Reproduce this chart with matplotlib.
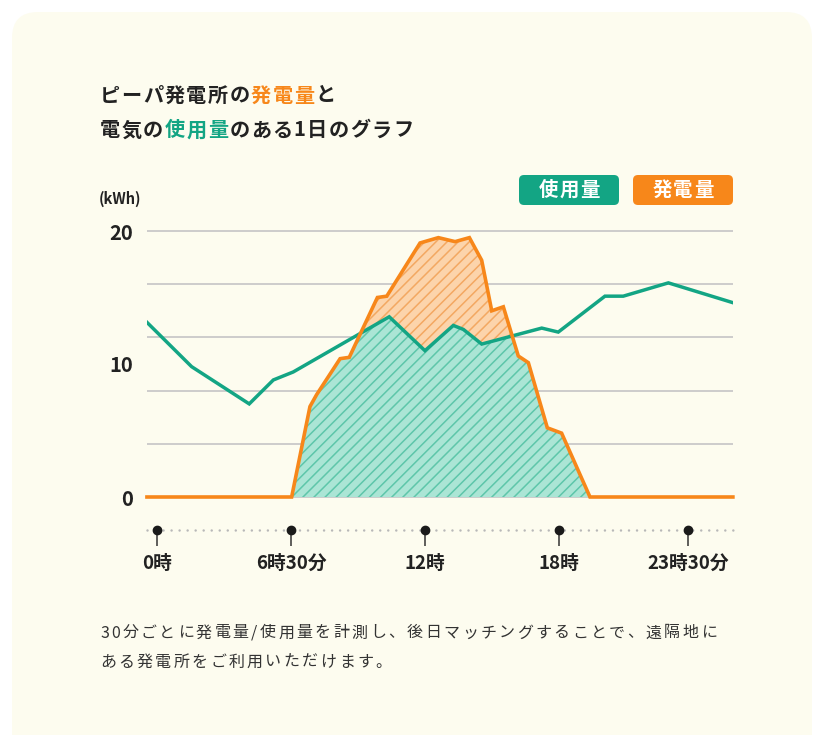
import numpy as np
import matplotlib.pyplot as plt
from matplotlib.patches import FancyBboxPatch
from matplotlib.transforms import IdentityTransform

plt.rcParams['font.family'] = ['Noto Sans CJK JP', 'DejaVu Sans']
plt.rcParams['hatch.linewidth'] = 1.1

# --- data (hours, kWh) ---
use_h = [-0.49, 1.55, 4.13, 5.21, 6.10, 10.40, 12.0, 13.27, 13.72, 14.54,
         17.23, 17.97, 20.06, 20.88, 22.90, 25.81]
use_kwh = [13.2, 9.8, 7.0, 8.8, 9.4, 13.55, 11.0, 12.9, 12.6, 11.5,
           12.7, 12.4, 15.1, 15.1, 16.1, 14.6]

gen_h = [-0.45, 6.03, 6.85, 7.15, 8.20, 8.61, 9.87, 10.29, 11.78, 12.60, 13.35,
         13.99, 14.54, 14.99, 15.51, 16.18, 16.63, 17.48, 18.12, 19.39, 25.79]
gen_kwh = [0, 0, 6.8, 7.7, 10.4, 10.5, 15.0, 15.1, 19.1, 19.5, 19.2,
           19.5, 17.8, 14.0, 14.3, 10.6, 10.1, 5.2, 4.8, 0, 0]

grid_kwh = [0, 4, 8, 12, 16, 20]
ytick_kwh = [0, 10, 20]
time_pos = [0, 6.0, 12, 18, 23.8]
time_labels = ['0時', '6時30分', '12時', '18時', '23時30分']

GREEN = '#13a584'
ORANGE = '#f7871a'
DARK = '#222222'
W, H = 813, 735

fig = plt.figure(figsize=(W / 100, H / 100), dpi=100)
fig.patch.set_facecolor('white')
px = IdentityTransform()

# card background
fig.add_artist(FancyBboxPatch((12, -40), 800, 763, boxstyle='round,pad=0,rounding_size=26',
                              facecolor='#fdfcef', edgecolor='none', transform=px, zorder=0))

# --- axes ---
ax = fig.add_axes([147 / W, 1 - 503.65 / H, (733 - 147) / W, (503.65 - 224.35) / H])
ax.set_facecolor('none')
ax.set_xlim((147 - 157) / 22.33, (733 - 157) / 22.33)
ax.set_ylim(-0.5, 20.5)
for s in ax.spines.values():
    s.set_visible(False)
ax.set_xticks([])
ax.set_yticks(ytick_kwh)
ax.set_yticklabels([str(v) for v in ytick_kwh], fontsize=14.5, fontweight='bold', color=DARK)
ax.tick_params(axis='y', length=0, pad=10)

for g in grid_kwh:
    ax.axhline(g, color='#c9c9c9', lw=1.3, zorder=1)

# fills
xs = np.union1d(np.union1d(use_h, gen_h), np.linspace(gen_h[0], gen_h[-1], 3000))
u = np.interp(xs, use_h, use_kwh)
g = np.interp(xs, gen_h, gen_kwh)
ax.fill_between(xs, 0, np.minimum(u, g), facecolor='#abe5d5', edgecolor='#5ec6aa',
                hatch='///', lw=0, zorder=2)
ax.fill_between(xs, u, g, where=g > u, interpolate=True, facecolor='#fcd4ab',
                edgecolor='#f3a862', hatch='///', lw=0, zorder=2)

ax.plot(use_h, use_kwh, color=GREEN, lw=2.5, zorder=4, solid_joinstyle='miter')
ax.plot(gen_h, gen_kwh, color=ORANGE, lw=2.6, zorder=5, clip_on=False, solid_joinstyle='miter')

# time axis
t_y = (497 - 530) / 13.3
ax.plot(ax.get_xlim(), [t_y, t_y], color='#b8b8b8', lw=1.8, ls=(0, (0.01, 3.2)),
        dash_capstyle='round', clip_on=False)
ax.vlines(time_pos, (497 - 546) / 13.3, t_y, color='#333333', lw=1.1, clip_on=False)
ax.plot(time_pos, [t_y] * len(time_pos), 'o', ms=6, color='#1a1a1a', clip_on=False)
for p, lab in zip(time_pos, time_labels):
    ax.text(p, (497 - 563) / 13.3, lab, ha='center', va='center', fontsize=13.5,
            fontweight='bold', color=DARK)

fig.text(99 / W, 1 - 199 / H, '(kWh)', fontsize=10.5, fontweight='bold', color=DARK,
         ha='left', va='center')


def tracked(x, y, parts, size, track, weight='bold', ha='left'):
    # full-width glyphs on a fixed pitch, ascii by measured width
    r = fig.canvas.get_renderer()
    em = size * 100 / 72
    items = []
    for s, c in parts:
        for ch in s:
            t = fig.text(0, 1 - y / H, ch, fontsize=size, color=c, fontweight=weight,
                         ha='center', va='center', zorder=5)
            w = t.get_window_extent(r).width if ord(ch) < 128 else em
            items.append((t, w))
    total = sum(w for _, w in items) + track * (len(items) - 1)
    x0 = x - total / 2 if ha == 'center' else x
    for t, w in items:
        t.set_x((x0 + w / 2) / W)
        x0 += w + track


# title
tracked(100, 95, [('ピーパ発電所の', DARK), ('発電量', ORANGE), ('と', DARK)], 14.5, 1.4)
tracked(100, 130, [('電気の', DARK), ('使用量', GREEN), ('のある1日のグラフ', DARK)], 14.5, 1.4)

# legend boxes
for x0, label, col in [(519, '使用量', GREEN), (633, '発電量', ORANGE)]:
    fig.add_artist(FancyBboxPatch((x0, H - 205), 100, 30, boxstyle='round,pad=0,rounding_size=5',
                                  facecolor=col, edgecolor='none', transform=px, zorder=3))
    tracked(x0 + 50, 190, [(label, 'white')], 14, 1.0, ha='center')

# footnote
tracked(100, 633, [('30分ごとに発電量/使用量を計測し、後日マッチングすることで、遠隔地に', '#333333')],
        11.5, 2.4, weight='normal')
tracked(100, 662, [('ある発電所をご利用いただけます。', '#333333')], 11.5, 2.4, weight='normal')

fig.savefig('out.png', dpi=100, facecolor=fig.get_facecolor())
